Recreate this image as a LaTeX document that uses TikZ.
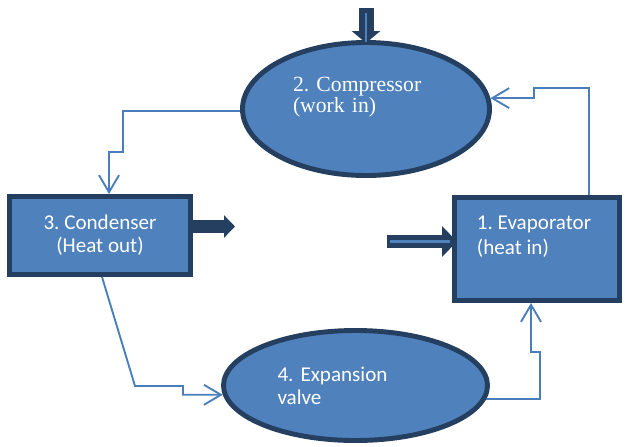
\documentclass[tikz,border=0pt]{standalone}
\usepackage{fontspec}
\setmainfont{Carlito}
\newfontfamily\timesfont{Liberation Serif}
\usetikzlibrary{shapes.geometric,arrows.meta}
\frenchspacing

\definecolor{unitfill}{HTML}{4F81BD}
\definecolor{unitline}{HTML}{253F60}
\definecolor{pipeblue}{HTML}{4A7EBB}

\def\px{0.03cm}

\begin{document}
\begin{tikzpicture}[x=\px, y=-\px,
                    >={Straight Barb[length=0.51cm,width=0.6cm]},
                    unit/.style={draw=unitline, fill=unitfill, line width=4.2pt, inner sep=0pt},
                    txt/.style={text=white, inner sep=0pt, align=left, font=\fontsize{18}{19.6}\selectfont},
                    pipe/.style={draw=pipeblue, line width=1.6pt, ->},
                    heat/.style={draw=unitline, line width=0.39cm},
                    core/.style={draw=unitfill, line width=2.5pt}
                   ]
\useasboundingbox (0,0) rectangle (627,446);

% the four parts of the cycle
\node[unit, ellipse, minimum width=7.41cm, minimum height=3.99cm] (comp) at (366,109) {};
\node[txt, text width=4.38cm, font=\timesfont\fontsize{18.5}{18}\selectfont]
    (comptext) at ([yshift=0.35cm]comp.center) {2. Compressor\\(work in)};
\node[unit, txt, align=center, minimum width=5.43cm, minimum height=2.34cm]
    (cond) at (100,235.5) {3. Condenser\\(Heat out)};
\node[unit, minimum width=4.95cm, minimum height=3.09cm] (evap) at (537,249) {};
\node[txt, anchor=north west, font=\fontsize{18}{21.4}\selectfont]
    (evaptext) at ([xshift=0.74cm,yshift=-0.61cm]evap.north west) {1. Evaporator\\(heat in)};
\node[unit, ellipse, txt, text width=4.68cm, minimum width=7.92cm, minimum height=3.3cm]
    (expv) at (355.5,385.5) {4. Expansion\\valve};

% work and heat
\coordinate (workin) at (366,8);
\coordinate (heatout) at (235,226.5);
\coordinate (heatin) at (387,241.5);
\draw[heat, line width=0.45cm, -{Triangle[length=0.36cm,width=0.84cm]}, shorten >=-0.09cm]
    (workin) -- (comp.north);
\draw[core] ([yshift=-0.15cm]workin) -- ([yshift=-0.06cm]comp.north);
\draw[heat, -{Triangle[length=0.33cm,width=0.66cm]}] (cond.east |- heatout) -- (heatout);
\draw[heat, -{Triangle[length=0.45cm,width=0.9cm]}, shorten >=-0.15cm]
    (heatin) -- (evap.west |- heatin);
\draw[core] ([xshift=0.1cm]heatin) -- ([xshift=-0.06cm]evap.west |- heatin);

% refrigerant flow
\draw[pipe] (comp.181) -| (123,152) -| ([xshift=0.27cm]cond.north);
\draw[pipe] ([xshift=0.06cm]cond.south) -- (135,386) -- (183,386) |- (expv.184.6);
\draw[pipe] (expv.-6) -| (540,352) -| ([xshift=-0.18cm]evap.south);
\draw[pipe] ([xshift=1.56cm]evap.north) |- (534,88) |- (comp.5.5);
\end{tikzpicture}
\end{document}
